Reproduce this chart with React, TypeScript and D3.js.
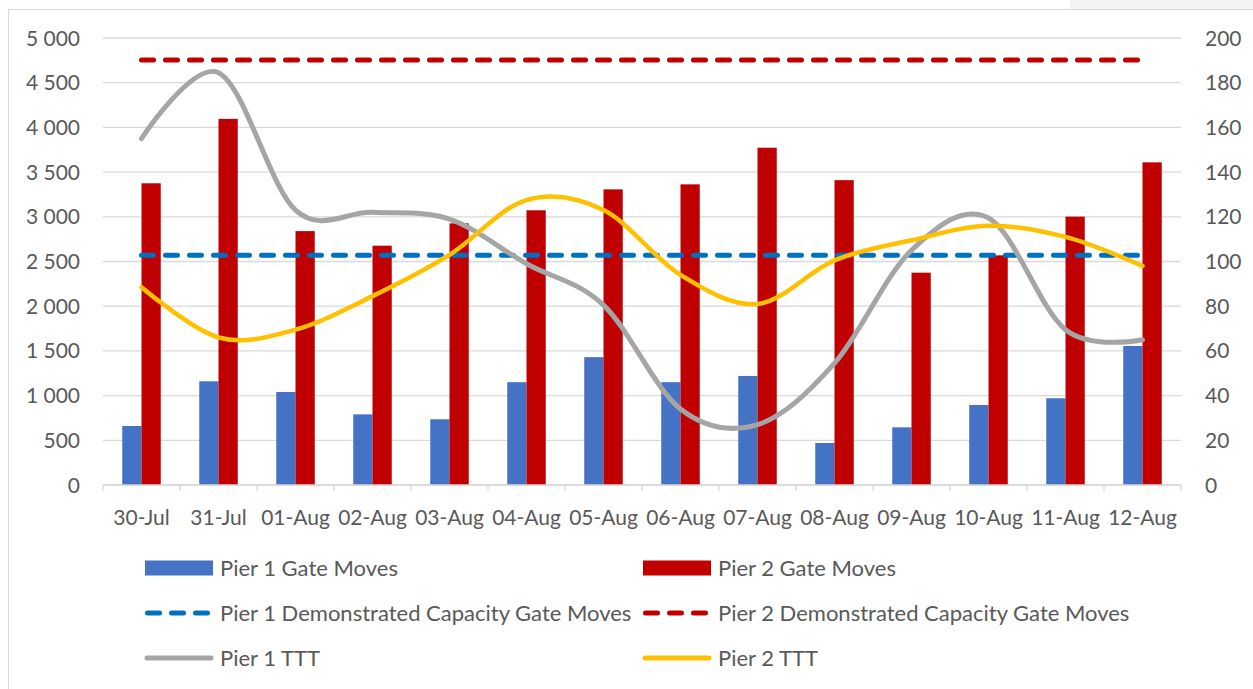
import React from "react";
import * as d3 from "d3";

const categories = ["30-Jul","31-Jul","01-Aug","02-Aug","03-Aug","04-Aug","05-Aug","06-Aug","07-Aug","08-Aug","09-Aug","10-Aug","11-Aug","12-Aug"];
const pier1GateMoves = [660, 1160, 1040, 790, 735, 1150, 1430, 1150, 1220, 470, 645, 895, 970, 1555];
const pier2GateMoves = [3375, 4095, 2840, 2677, 2927, 3073, 3307, 3363, 3773, 3410, 2375, 2569, 3002, 3609];
const pier1Capacity = 2570;
const pier2Capacity = 4755;
const pier1TTT = [155, 184.5, 123, 122, 119, 99, 80.5, 34, 27, 54.5, 105, 119.5, 69.5, 65];
const pier2TTT = [88.5, 66, 69.5, 84.5, 103, 127.5, 123, 94, 81, 100.5, 109.5, 116, 111, 98];
const leftTicks = [0, 500, 1000, 1500, 2000, 2500, 3000, 3500, 4000, 4500, 5000];
const rightTicks = [0, 20, 40, 60, 80, 100, 120, 140, 160, 180, 200];

const W = 1253, H = 689;
const FONT = "Lato, 'Open Sans', sans-serif";
const TXT = "#595959";

export default function App() {
  const left = 103, right = 1181, top = 38, bottom = 485;
  const x = d3.scaleBand<string>().domain(categories).range([left, right]).padding(0);
  const yL = d3.scaleLinear().domain([0, 5000]).range([bottom, top]);
  const yR = d3.scaleLinear().domain([0, 200]).range([bottom, top]);
  const bw = x.bandwidth() * 0.25;
  const cx = (c: string) => (x(c) as number) + x.bandwidth() / 2;
  const fmt = (v: number) => d3.format(",")(v).replace(/,/g, " ");
  const line = d3.line<number>().x((_, i) => cx(categories[i])).y((v) => yR(v)).curve(d3.curveCardinal.tension(0));
  const x0 = cx(categories[0]);
  const x1 = cx(categories[categories.length - 1]);
  const dash = "12 12";

  const legend = [
    { col: 0, row: 0, type: "bar", color: "#4472C4", label: "Pier 1 Gate Moves" },
    { col: 1, row: 0, type: "bar", color: "#C00000", label: "Pier 2 Gate Moves" },
    { col: 0, row: 1, type: "dash", color: "#0070C0", label: "Pier 1 Demonstrated Capacity Gate Moves" },
    { col: 1, row: 1, type: "dash", color: "#C00000", label: "Pier 2 Demonstrated Capacity Gate Moves" },
    { col: 0, row: 2, type: "line", color: "#A5A5A5", label: "Pier 1 TTT" },
    { col: 1, row: 2, type: "line", color: "#FFC000", label: "Pier 2 TTT" },
  ];

  return (
    <svg width={W} height={H} style={{ position: "absolute", left: 0, top: 0, background: "#fff" }} fontFamily={FONT}>
      <rect x={0} y={0} width={W} height={H} fill="#fff" />
      <rect x={1070} y={0} width={W - 1070} height={9} fill="#f3f3f3" />
      <rect x={8.5} y={9.5} width={W + 20} height={H + 20} fill="#fff" stroke="#d9d9d9" />
      {leftTicks.map((t) => (
        <line key={"g" + t} x1={left} x2={right} y1={yL(t)} y2={yL(t)} stroke="#d9d9d9" strokeWidth={1.3} />
      ))}
      {leftTicks.map((t) => (
        <text key={"l" + t} x={80} y={yL(t)} dy="0.36em" textAnchor="end" fontSize={21} fill={TXT}>{fmt(t)}</text>
      ))}
      {rightTicks.map((t) => (
        <text key={"r" + t} x={1205} y={yR(t)} dy="0.36em" textAnchor="start" fontSize={21} fill={TXT}>{t}</text>
      ))}
      {[...categories.map((c) => x(c) as number), right].map((p, i) => (
        <line key={"tk" + i} x1={p} x2={p} y1={bottom} y2={bottom + 6} stroke="#d9d9d9" strokeWidth={1.3} />
      ))}
      {categories.map((c) => (
        <text key={"c" + c} x={cx(c)} y={517} dy="0.36em" textAnchor="middle" fontSize={21} fill={TXT}>{c}</text>
      ))}
      {categories.map((c, i) => (
        <g key={"b" + c}>
          <rect x={cx(c) - bw} y={yL(pier1GateMoves[i])} width={bw} height={bottom - yL(pier1GateMoves[i])} fill="#4472C4" />
          <rect x={cx(c)} y={yL(pier2GateMoves[i])} width={bw} height={bottom - yL(pier2GateMoves[i])} fill="#C00000" />
        </g>
      ))}
      <line x1={left} x2={right} y1={bottom} y2={bottom} stroke="#d9d9d9" strokeWidth={1.3} />
      <line x1={x0} x2={x1} y1={yL(pier1Capacity)} y2={yL(pier1Capacity)} stroke="#0070C0" strokeWidth={5} strokeDasharray={dash} strokeLinecap="round" />
      <line x1={x0} x2={x1} y1={yL(pier2Capacity)} y2={yL(pier2Capacity)} stroke="#C00000" strokeWidth={5} strokeDasharray={dash} strokeLinecap="round" />
      <path d={line(pier1TTT) as string} fill="none" stroke="#A5A5A5" strokeWidth={5} strokeLinecap="round" />
      <path d={line(pier2TTT) as string} fill="none" stroke="#FFC000" strokeWidth={4.5} strokeLinecap="round" />
      {legend.map((l, i) => {
        const lx = l.col === 0 ? 145 : 643;
        const ly = 568 + l.row * 45;
        return (
          <g key={"lg" + i}>
            {l.type === "bar" && <rect x={lx} y={ly - 7.5} width={68} height={15} fill={l.color} />}
            {l.type === "dash" && <line x1={lx + 2.5} x2={lx + 66} y1={ly} y2={ly} stroke={l.color} strokeWidth={5} strokeDasharray={dash} strokeLinecap="round" />}
            {l.type === "line" && <line x1={lx + 2} x2={lx + 66} y1={ly} y2={ly} stroke={l.color} strokeWidth={5} strokeLinecap="round" />}
            <text x={lx + 75} y={ly} dy="0.36em" fontSize={22} fill={TXT}>{l.label}</text>
          </g>
        );
      })}
    </svg>
  );
}
